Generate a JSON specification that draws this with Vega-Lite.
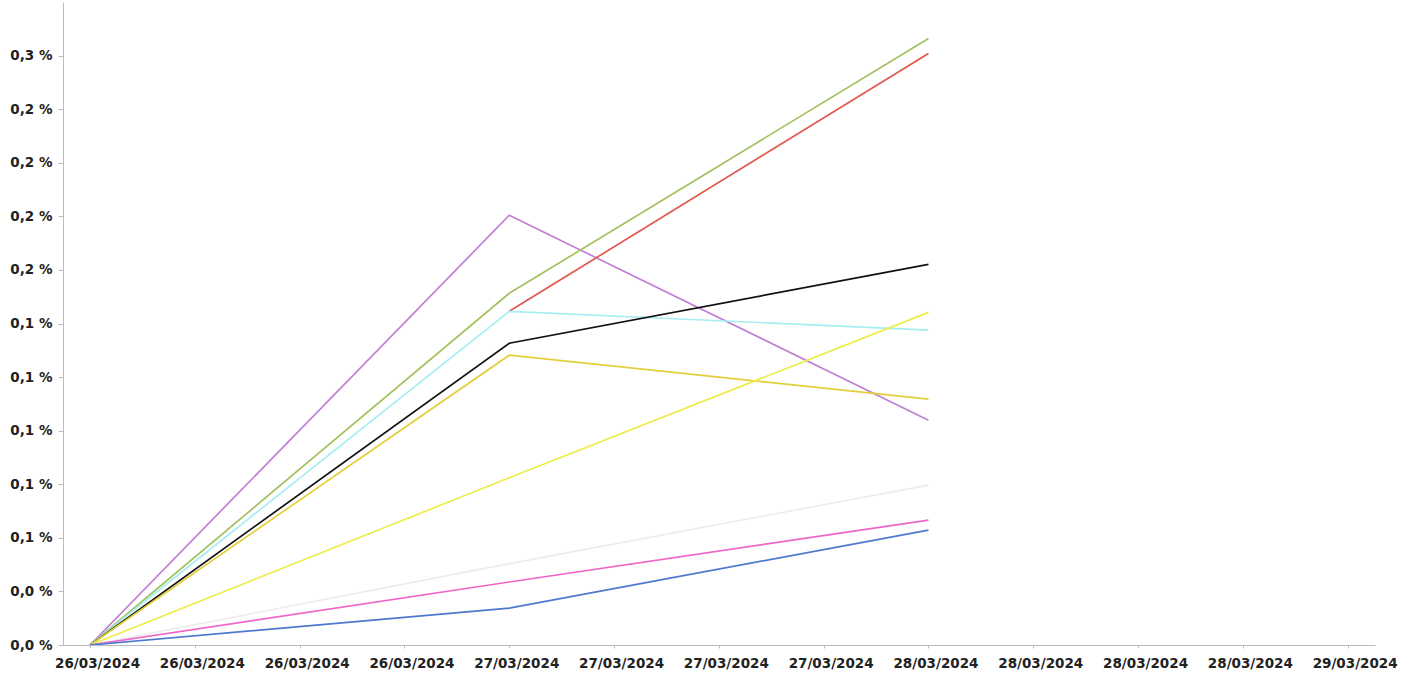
{
  "$schema": "https://vega.github.io/schema/vega-lite/v6.json",
  "width": 1312,
  "height": 643,
  "autosize": {"type": "none"},
  "padding": {"left": 63, "top": 2, "right": 30, "bottom": 29},
  "background": "white",
  "config": {"view": {"stroke": null}},
  "data": {
    "values": [
      {"series": "a", "date": "2024-03-26T00:00:00", "value": 0},
      {"series": "a", "date": "2024-03-27T00:00:00", "value": 0.2005},
      {"series": "a", "date": "2024-03-28T00:00:00", "value": 0.1049},
      {"series": "b", "date": "2024-03-26T00:00:00", "value": 0},
      {"series": "b", "date": "2024-03-27T00:00:00", "value": 0.1641},
      {"series": "b", "date": "2024-03-28T00:00:00", "value": 0.283},
      {"series": "c", "date": "2024-03-27T00:00:00", "value": 0.1557},
      {"series": "c", "date": "2024-03-28T00:00:00", "value": 0.276},
      {"series": "d", "date": "2024-03-26T00:00:00", "value": 0},
      {"series": "d", "date": "2024-03-27T00:00:00", "value": 0.1557},
      {"series": "d", "date": "2024-03-28T00:00:00", "value": 0.1469},
      {"series": "e", "date": "2024-03-26T00:00:00", "value": 0},
      {"series": "e", "date": "2024-03-27T00:00:00", "value": 0.1408},
      {"series": "e", "date": "2024-03-28T00:00:00", "value": 0.1776},
      {"series": "f", "date": "2024-03-26T00:00:00", "value": 0},
      {"series": "f", "date": "2024-03-27T00:00:00", "value": 0.1352},
      {"series": "f", "date": "2024-03-28T00:00:00", "value": 0.1147},
      {"series": "g", "date": "2024-03-26T00:00:00", "value": 0},
      {"series": "g", "date": "2024-03-27T00:00:00", "value": 0.078},
      {"series": "g", "date": "2024-03-28T00:00:00", "value": 0.1552},
      {"series": "h", "date": "2024-03-26T00:00:00", "value": 0},
      {"series": "h", "date": "2024-03-27T00:00:00", "value": 0.038},
      {"series": "h", "date": "2024-03-28T00:00:00", "value": 0.0746},
      {"series": "i", "date": "2024-03-26T00:00:00", "value": 0},
      {"series": "i", "date": "2024-03-27T00:00:00", "value": 0.0294},
      {"series": "i", "date": "2024-03-28T00:00:00", "value": 0.0583},
      {"series": "j", "date": "2024-03-26T00:00:00", "value": 0},
      {"series": "j", "date": "2024-03-27T00:00:00", "value": 0.0172},
      {"series": "j", "date": "2024-03-28T00:00:00", "value": 0.0536}
    ]
  },
  "mark": {"type": "line", "strokeWidth": 1.7, "clip": true},
  "encoding": {
    "x": {
      "field": "date",
      "type": "temporal",
      "scale": {
        "domain": [
          {"year": 2024, "month": 3, "date": 25, "hours": 22, "minutes": 27},
          {"year": 2024, "month": 3, "date": 29, "hours": 1, "minutes": 34}
        ]
      },
      "axis": {
        "title": null,
        "grid": false,
        "format": "%d/%m/%Y",
        "values": [
          {"year": 2024, "month": 3, "date": 26, "hours": 0},
          {"year": 2024, "month": 3, "date": 26, "hours": 6},
          {"year": 2024, "month": 3, "date": 26, "hours": 12},
          {"year": 2024, "month": 3, "date": 26, "hours": 18},
          {"year": 2024, "month": 3, "date": 27, "hours": 0},
          {"year": 2024, "month": 3, "date": 27, "hours": 6},
          {"year": 2024, "month": 3, "date": 27, "hours": 12},
          {"year": 2024, "month": 3, "date": 27, "hours": 18},
          {"year": 2024, "month": 3, "date": 28, "hours": 0},
          {"year": 2024, "month": 3, "date": 28, "hours": 6},
          {"year": 2024, "month": 3, "date": 28, "hours": 12},
          {"year": 2024, "month": 3, "date": 28, "hours": 18},
          {"year": 2024, "month": 3, "date": 29, "hours": 0}
        ],
        "labelFont": "DejaVu Sans",
        "labelFontWeight": "bold",
        "labelFontSize": 13.5,
        "labelColor": "#222222",
        "labelPadding": 8,
        "labelOffset": 7,
        "labelOverlap": false,
        "labelBound": false,
        "labelFlush": false,
        "tickSize": 3,
        "tickColor": "#bbbbbb",
        "domainColor": "#bbbbbb",
        "domainWidth": 1
      }
    },
    "y": {
      "field": "value",
      "type": "quantitative",
      "scale": {"domain": [0, 0.3], "nice": false, "zero": true},
      "axis": {
        "title": null,
        "grid": false,
        "values": [0, 0.025, 0.05, 0.075, 0.1, 0.125, 0.15, 0.175, 0.2, 0.225, 0.25, 0.275],
        "labelExpr": "(datum.value > 0.24 && datum.value < 0.26) ? '0,2 %' : replace(format(datum.value, '.1f'), '.', ',') + ' %'",
        "labelFont": "DejaVu Sans",
        "labelFontWeight": "bold",
        "labelFontSize": 13.5,
        "labelColor": "#222222",
        "labelPadding": 6,
        "labelOverlap": false,
        "labelBound": false,
        "labelFlush": false,
        "tickSize": 5,
        "tickColor": "#bbbbbb",
        "domainColor": "#bbbbbb",
        "domainWidth": 1
      }
    },
    "color": {
      "field": "series",
      "type": "nominal",
      "legend": null,
      "scale": {
        "domain": ["a", "b", "c", "d", "e", "f", "g", "h", "i", "j"],
        "range": ["#c27fd6", "#a3c15f", "#e2574c", "#a6eef2", "#111111", "#e3cf3a", "#eded4a", "#ededed", "#f066c8", "#4f78cf"]
      }
    },
    "order": {"field": "date", "type": "temporal"}
  }
}
